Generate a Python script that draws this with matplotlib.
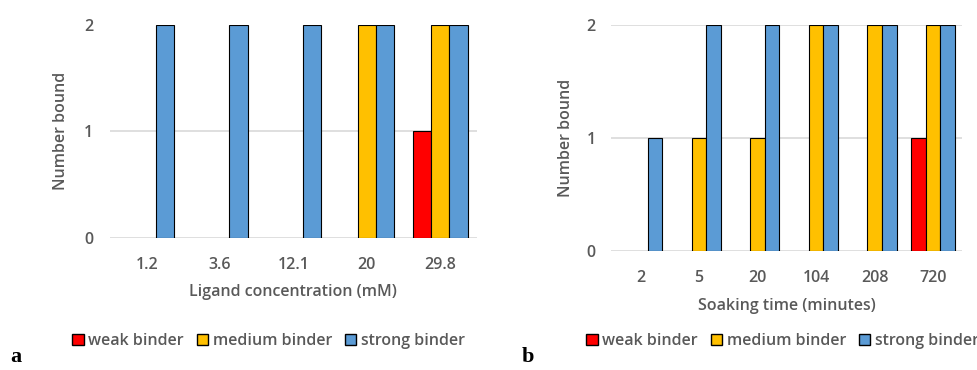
import numpy as np
import matplotlib
matplotlib.use("Agg")
import matplotlib.pyplot as plt

plt.rcParams["font.family"] = ["Open Sans", "DejaVu Sans"]

# -----------------------------------------------
# Data
# -----------------------------------------------
conc_labels = ["1.2", "3.6", "12.1", "20", "29.8"]
conc_weak = [0, 0, 0, 0, 1]
conc_medium = [0, 0, 0, 2, 2]
conc_strong = [2, 2, 2, 2, 2]

time_labels = ["2", "5", "20", "104", "208", "720"]
time_weak = [0, 0, 0, 0, 0, 1]
time_medium = [0, 1, 1, 2, 2, 2]
time_strong = [1, 2, 2, 2, 2, 2]

series_names = ["weak binder", "medium binder", "strong binder"]
colors = ["#FF0000", "#FFC000", "#5B9BD5"]
grey = "#595959"
fs = 11.5

fig = plt.figure(figsize=(9.78, 3.7), dpi=100)
ax1 = fig.add_axes([0.1125, 0.357, 0.375, 0.576])
ax2 = fig.add_axes([0.625, 0.3216, 0.359, 0.611])


def draw_panel(ax, labels, series, xlabel, legend_y, legend_x, ypad, ylpad, xlpad):
    x = np.arange(len(labels))
    w = 0.25
    handles = []
    for k, (vals, col, name) in enumerate(zip(series, colors, series_names)):
        vals = np.array(vals)
        lw = np.where(vals > 0, 0.8, 0.0)
        b = ax.bar(x + (k - 1) * w, vals, w, color=col, edgecolor="black",
                   linewidth=lw, zorder=3, label=name)
        handles.append(b)
    ax.set_xlim(-0.5, len(labels) - 0.5)
    ax.set_ylim(0, 2)
    ax.set_yticks([0, 1, 2])
    ax.set_xticks(x)
    ax.set_xticklabels(labels)
    ax.yaxis.grid(True, color="#D9D9D9", linewidth=1.2, zorder=0)
    ax.set_axisbelow(True)
    for s in ax.spines.values():
        s.set_visible(False)
    ax.tick_params(length=0, labelsize=fs, colors=grey, pad=14)
    ax.tick_params(axis="y", pad=ypad)
    for t in ax.get_xticklabels() + ax.get_yticklabels():
        t.set_fontweight("semibold")
    ax.set_xlabel(xlabel, fontsize=fs, color=grey, fontweight="semibold", labelpad=xlpad)
    ax.set_ylabel("Number bound", fontsize=fs, color=grey, fontweight="semibold", labelpad=ylpad)
    leg = fig.legend(handles=handles, loc="center left",
                     bbox_to_anchor=(legend_x, legend_y), ncol=3, frameon=False,
                     fontsize=fs, handlelength=0.7, handleheight=0.7,
                     handletextpad=0.3, columnspacing=0.8, borderaxespad=0)
    for t in leg.get_texts():
        t.set_color(grey)
        t.set_fontweight("semibold")
    for h in leg.legend_handles:
        h.set_linewidth(1.0)
        h.set_edgecolor("black")
    return leg


draw_panel(ax1, conc_labels, [conc_weak, conc_medium, conc_strong],
           "Ligand concentration (mM)", 1 - 341 / 370, 66 / 978, 12, 11, 8)
draw_panel(ax2, time_labels, [time_weak, time_medium, time_strong],
           "Soaking time (minutes)", 1 - 341 / 370, 580 / 978, 11, 9, 8)

# hide top gridline in panel a
ax1.get_ygridlines()[-1].set_visible(False)

fig.text(10 / 978, 1 - 362 / 370, "a", fontsize=16, fontweight="bold",
         family="Liberation Serif", va="baseline")
fig.text(522 / 978, 1 - 362 / 370, "b", fontsize=16, fontweight="bold",
         family="Liberation Serif", va="baseline")

fig.savefig("out.png", dpi=100)
